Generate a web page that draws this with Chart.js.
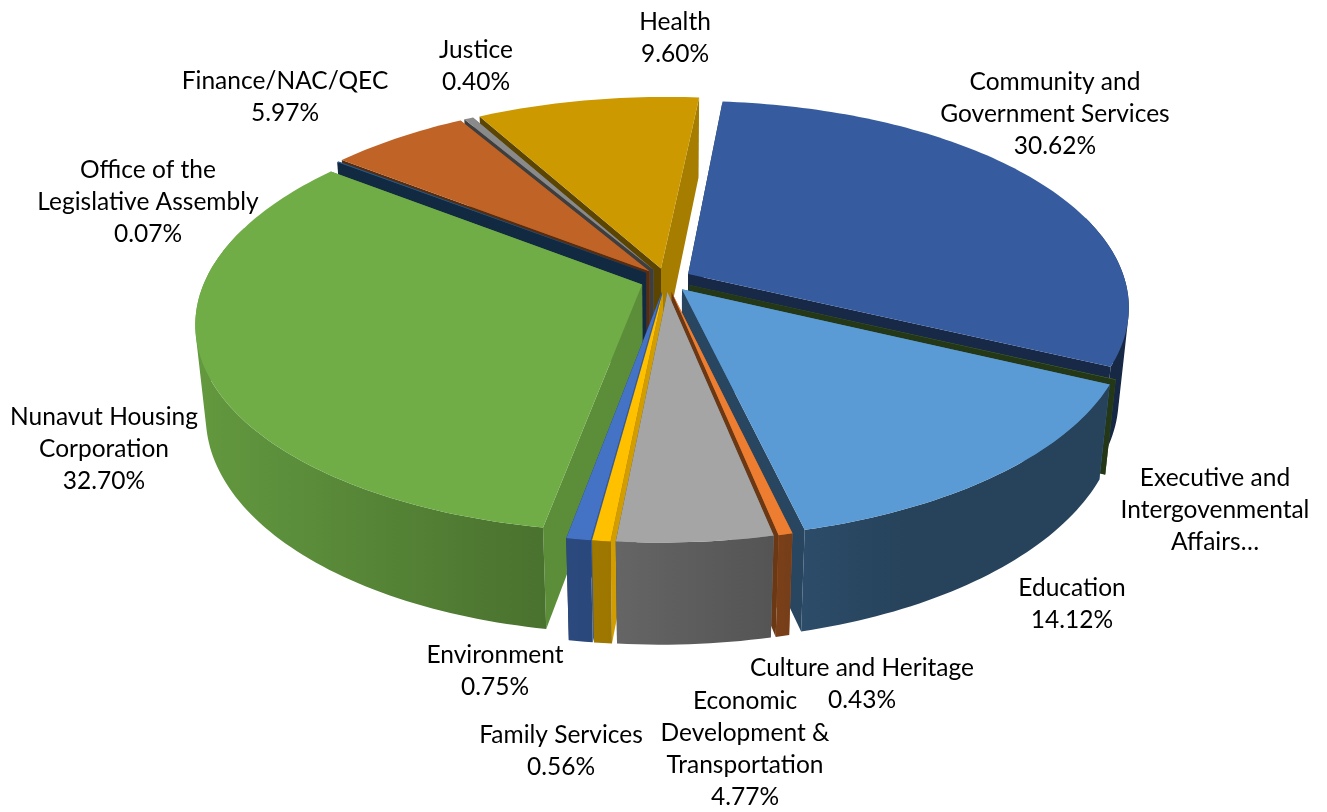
<!DOCTYPE html>
<html>
<head>
<meta charset="utf-8">
<title>Pie</title>
<script src="https://cdn.jsdelivr.net/npm/chart.js@4"></script>
<style>
html, body { margin: 0; padding: 0; background: #fff; }
#wrap { width: 1327px; height: 812px; }
</style>
</head>
<body>
<div id="wrap"><canvas id="pieChart" width="1327" height="812"></canvas></div>
<script>
// Du lieu doc tu hinh
var categories = [
    ['Community and', 'Government Services'],
    ['Executive and', 'Intergovenmental', 'Affairs…'],
    ['Education'],
    ['Culture and Heritage'],
    ['Economic', 'Development &', 'Transportation'],
    ['Family Services'],
    ['Environment'],
    ['Nunavut Housing', 'Corporation'],
    ['Office of the', 'Legislative Assembly'],
    ['Finance/NAC/QEC'],
    ['Justice'],
    ['Health']
];
var values = [30.62, 0.01, 14.12, 0.43, 4.77, 0.56, 0.75, 32.70, 0.07, 5.97, 0.40, 9.60];
var valueLabels = ['30.62%', '', '14.12%', '0.43%', '4.77%', '0.56%', '0.75%', '32.70%', '0.07%', '5.97%', '0.40%', '9.60%'];

var sliceColors = ['#365C9F', '#507A33', '#5B9BD5', '#ED7D31', '#A5A5A5', '#FFC000',
    '#4472C4', '#70AD47', '#255E91', '#C06326', '#8A8A8A', '#CC9900'];

// Tam cua tung nhan [x, y dong dau]
var labelPlaces = [[1055, 81.7], [1215, 477.7], [1072, 587.7], [862, 667.7], [745, 700.7], [561, 734.7],
    [495, 654.7], [104, 416.7], [148, 169.7], [285, 80.7], [476, 49.7], [675, 21.7]];
var lineGap = 32.2;
var labelFont = '24.5px Lato';

// Phep chieu phoi canh cho mat banh
var view = { cx: 666, cy: 280, rx: 437, ry: 204, shear: -6, persp: 0.168, depth: 92, sink: 0.022 };

function project(u, v, z) {
    var w = 1 - view.persp * v + view.sink * z;
    return { x: view.cx + (view.rx * u + view.shear * v) / w, y: view.cy + (view.ry * v + view.depth * z) / w };
}

function shade(hex, f) {
    var n = parseInt(hex.slice(1), 16);
    var r = Math.round((n >> 16) * f), g = Math.round(((n >> 8) & 255) * f), b = Math.round((n & 255) * f);
    return 'rgb(' + r + ',' + g + ',' + b + ')';
}

function tracePoly(ctx, pts) {
    pts.forEach(function (p, i) {
        if (i == 0) ctx.moveTo(p.x, p.y); else ctx.lineTo(p.x, p.y);
    });
    ctx.closePath();
}

function fillPoly(ctx, pts, color) {
    ctx.beginPath();
    tracePoly(ctx, pts);
    ctx.fillStyle = color;
    ctx.fill();
}

// Do sang thanh ngoai theo vi tri ngang: trai sang, phai toi
function rimShade(x) {
    return Math.max(0.43, 0.58 - 0.28 * (x - view.cx) / view.rx);
}

function drawSlice(ctx, arc) {
    var color = arc.options.backgroundColor;
    var e = arc.options.offset / arc.outerRadius;
    var mid = (arc.startAngle + arc.endAngle) / 2;
    var ox = Math.cos(mid) * e, oy = Math.sin(mid) * e;
    var steps = Math.max(2, Math.ceil((arc.endAngle - arc.startAngle) / 0.02));
    var rim = [];
    for (var i = 0; i <= steps; i++) {
        var a = arc.startAngle + (arc.endAngle - arc.startAngle) * i / steps;
        rim.push({ u: ox + Math.cos(a), v: oy + Math.sin(a), a: a });
    }

    // Hai vach cat: vach quay ra sau ve truoc
    var walls = [
        { at: rim[0], nx: Math.sin(arc.startAngle), nv: -Math.cos(arc.startAngle) },
        { at: rim[steps], nx: -Math.sin(arc.endAngle), nv: Math.cos(arc.endAngle) }
    ];
    walls.sort(function (a, b) { return a.nv - b.nv; });
    walls.forEach(function (s) {
        fillPoly(ctx, [project(ox, oy, 0), project(s.at.u, s.at.v, 0),
            project(s.at.u, s.at.v, 1), project(ox, oy, 1)], shade(color, s.nx > 0 ? 0.82 : 0.45));
    });

    // Thanh ngoai: chi phan nhin thay, gop cac dai cung chieu vao mot path de khong lo duong noi
    var seen = rim.filter(function (r) { return Math.sin(r.a) > -0.3; });
    if (seen.length > 1) {
        var upper = seen.map(function (r) { return project(r.u, r.v, 0); });
        var lower = seen.map(function (r) { return project(r.u, r.v, 1); });
        var xs = upper.concat(lower).map(function (p) { return p.x; });
        var x0 = Math.min.apply(null, xs), x1 = Math.max.apply(null, xs);
        var grad = ctx.createLinearGradient(x0, 0, x1 + 0.01, 0);
        for (var s = 0; s <= 12; s++) {
            grad.addColorStop(s / 12, shade(color, rimShade(x0 + (x1 - x0) * s / 12)));
        }
        ctx.beginPath();
        for (var j = 0; j < seen.length - 1; j++) {
            var quad = [upper[j], upper[j + 1], lower[j + 1], lower[j]];
            var area = 0;
            quad.forEach(function (p, k) {
                var n = quad[(k + 1) % 4];
                area += p.x * n.y - n.x * p.y;
            });
            tracePoly(ctx, area < 0 ? quad.reverse() : quad);
        }
        ctx.fillStyle = grad;
        ctx.fill();
    }

    // Mat tren
    var top = [project(ox, oy, 0)];
    rim.forEach(function (r) { top.push(project(r.u, r.v, 0)); });
    fillPoly(ctx, top, color);
}

var pie3d = {
    id: 'pie3d',
    beforeDatasetsDraw: function (chart) {
        var ctx = chart.ctx;
        var arcs = chart.getDatasetMeta(0).data.slice();
        // Ve tu sau ra truoc
        arcs.sort(function (a, b) {
            return Math.sin((a.startAngle + a.endAngle) / 2) - Math.sin((b.startAngle + b.endAngle) / 2);
        });
        ctx.save();
        arcs.forEach(function (arc) { drawSlice(ctx, arc); });
        ctx.restore();
        return false;
    },
    afterDraw: function (chart) {
        var ctx = chart.ctx;
        ctx.save();
        ctx.font = labelFont;
        ctx.fillStyle = '#000';
        ctx.textAlign = 'center';
        ctx.textBaseline = 'middle';
        categories.forEach(function (lines, i) {
            var all = valueLabels[i] ? lines.concat(valueLabels[i]) : lines;
            all.forEach(function (line, k) {
                ctx.fillText(line, labelPlaces[i][0], labelPlaces[i][1] + k * lineGap);
            });
        });
        ctx.restore();
    }
};

var ctx = document.getElementById('pieChart').getContext('2d');
new Chart(ctx, {
    type: 'pie',
    data: {
        labels: categories,
        datasets: [{
            data: values,
            backgroundColor: sliceColors,
            borderWidth: 0,
            offset: 23
        }]
    },
    options: {
        responsive: false,
        animation: false,
        rotation: 5,
        plugins: {
            legend: { display: false },
            tooltip: { enabled: false }
        }
    },
    plugins: [pie3d]
});
</script>
</body>
</html>
